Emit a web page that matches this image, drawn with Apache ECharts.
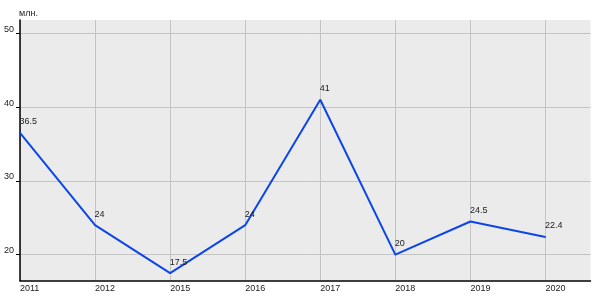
<!DOCTYPE html>
<html>
<head>
<meta charset="utf-8">
<script src="https://cdn.jsdelivr.net/npm/echarts@6/dist/echarts.min.js"></script>
<style>html,body{margin:0;padding:0;background:#fff}#c{width:600px;height:300px}</style>
</head>
<body>
<div id="c"></div>
<script>
var years = ['2011', '2012', '2015', '2016', '2017', '2018', '2019', '2020'];
var values = [36.5, 24, 17.5, 24, 41, 20, 24.5, 22.4];
var yTicks = [20, 30, 40, 50];
var unitLabel = 'млн.';
var xIdx = years.map(function (y, i) { return i; });

var chart = echarts.init(document.getElementById('c'), null, {renderer: 'canvas'});
var font = 'Arial, "Liberation Sans", sans-serif';
chart.setOption({
  animation: false,
  backgroundColor: '#ffffff',
  graphic: [{
    type: 'text', left: 19, top: 9, z: 100,
    style: {text: unitLabel, fontSize: 9, fill: '#222', fontFamily: font}
  }],
  grid: {left: 20, right: 9.5, top: 20, bottom: 19.5, show: true, backgroundColor: '#ebebeb', borderWidth: 0},
  xAxis: {
    type: 'value', min: 0, max: 7.6,
    axisLine: {show: true, lineStyle: {color: '#000', width: 1.5}},
    axisTick: {show: false, customValues: xIdx},
    axisLabel: {
      fontSize: 9, color: '#222', fontFamily: font, align: 'left', margin: 4,
      customValues: xIdx,
      formatter: function (v) { return years[Math.round(v)] || ''; }
    },
    splitLine: {show: true, lineStyle: {color: '#c4c4c4', width: 1}}
  },
  yAxis: {
    type: 'value', min: 16.5, max: 51.8,
    axisLine: {show: true, lineStyle: {color: '#000', width: 1.5}},
    axisTick: {show: true, length: 4, customValues: yTicks, lineStyle: {color: '#000'}},
    axisLabel: {fontSize: 9, color: '#222', fontFamily: font, margin: 6, customValues: yTicks,
      verticalAlign: 'bottom', lineHeight: 8},
    splitLine: {show: true, lineStyle: {color: '#c4c4c4', width: 1}}
  },
  series: [{
    type: 'line',
    data: values.map(function (v, i) { return [i, v]; }),
    symbol: 'circle', symbolSize: 1, showSymbol: true,
    lineStyle: {color: '#0a46e8', width: 2},
    itemStyle: {color: '#0a46e8'},
    label: {
      show: true, position: [0, -15], fontSize: 9, color: '#222', fontFamily: font,
      formatter: function (p) { return String(p.value[1]); }
    }
  }]
});
</script>
</body>
</html>
